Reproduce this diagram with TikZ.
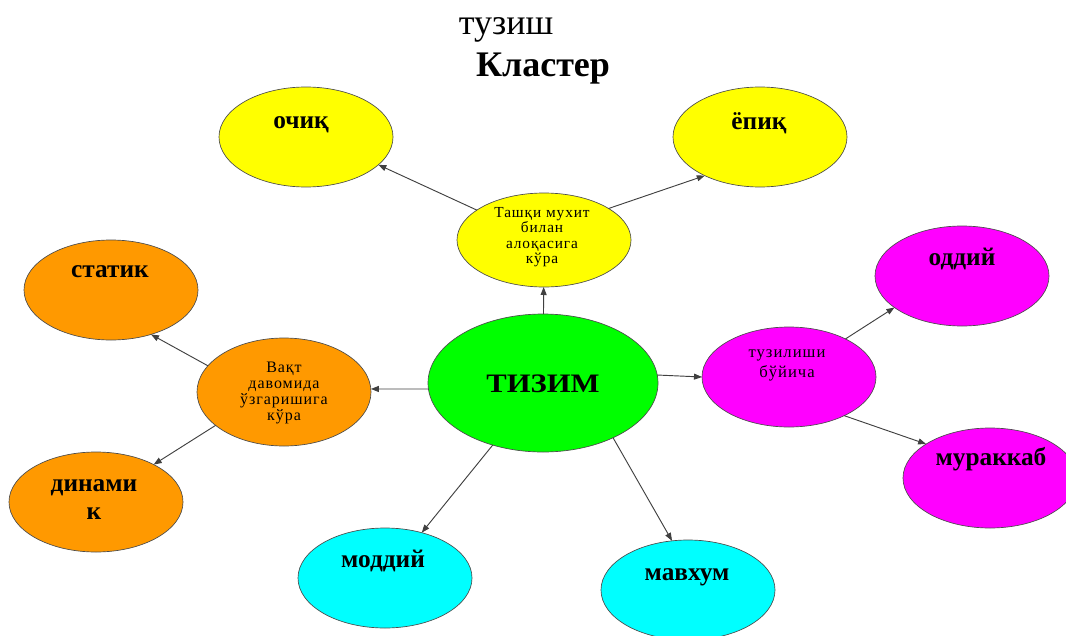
\documentclass[tikz,border=0pt]{standalone}
\usepackage{fontspec}
\setmainfont{Liberation Serif}
\newfontfamily\spacedfont[LetterSpace=6]{Liberation Serif}
\newfontfamily\widefont[FakeStretch=1.15]{Liberation Serif}
\usetikzlibrary{shapes.geometric,arrows.meta}
\definecolor{yell}{RGB}{255,255,0}
\definecolor{orng}{RGB}{255,153,0}
\definecolor{grn}{RGB}{0,255,0}
\definecolor{mgnt}{RGB}{255,0,255}
\definecolor{cyn}{RGB}{0,255,255}
\tikzset{
	blob/.style={ellipse, draw=black!70, line width=0.5pt, minimum width=130.5pt, minimum height=75pt, inner sep=0pt, outer sep=0pt},
	word/.style={font=\fontsize{19}{21}\selectfont\bfseries, inner sep=0pt, anchor=base},
	small/.style={font=\spacedfont\fontsize{11.5}{11.5}\selectfont, align=center, inner sep=0pt},
	arr/.style={draw=black!75, line width=0.7pt, -{Triangle[length=6pt,width=4.5pt]}}
}

\begin{document}
\begin{tikzpicture}[x=0.75pt,y=-0.75pt]
		\useasboundingbox (0,0) rectangle (1066,635);
		%Title
		\node[font=\fontsize{27}{30}\selectfont, inner sep=0pt, anchor=base] (tuzish) at (506,35) {тузиш};
		\node[font=\fontsize{27}{30}\selectfont\bfseries, inner sep=0pt, anchor=base] (klaster) at (543,77) {Кластер};
		%Ellipses
		\node[blob, fill=yell] (ochiq) at (306,137) {};
		\node[blob, fill=yell] (yopiq) at (760,137) {};
		\node[blob, fill=yell, minimum height=70.5pt] (tashqi) at (544,240) {};
		\node[blob, fill=orng] (statik) at (111,290) {};
		\node[blob, fill=orng, minimum height=81pt] (vaqt) at (284,392) {};
		\node[blob, fill=orng] (dinamik) at (96,502) {};
		\node[blob, fill=grn, minimum width=172.5pt, minimum height=103.5pt] (tizim) at (543,383) {};
		\node[blob, fill=mgnt] (tuzil) at (789,377) {};
		\node[blob, fill=mgnt] (oddiy) at (962,276) {};
		\node[blob, fill=mgnt] (murakkab) at (990,478) {};
		\node[blob, fill=cyn] (moddiy) at (385,578) {};
		\node[blob, fill=cyn] (mavhum) at (688,590) {};
		%Arrows
		\draw[arr] (tashqi.156) -- (ochiq.-21);
		\draw[arr] (tashqi.26) -- (yopiq.-145);
		\draw[arr] (tizim) -- (tashqi);
		\draw[arr] (tizim.183) -- (vaqt.2);
		\draw[arr] (tizim.4) -- (tuzil.west);
		\draw[arr] (tizim) -- (moddiy);
		\draw[arr] (tizim.-38) -- (mavhum.108);
		\draw[arr] (vaqt.161) -- (statik.-48);
		\draw[arr] (vaqt.-154) -- (dinamik.33);
		\draw[arr] (tuzil.34) -- (oddiy.-155);
		\draw[arr] (tuzil.-35) -- (murakkab.152);
		%Labels
		\node[word] (ochiqtxt) at (301,128) {очиқ};
		\node[word] (yopiqtxt) at (759,129) {ёпиқ};
		\node[word] (statiktxt) at (110,277) {статик};
		\node[word] (dinamiktxt) at (94,491) {динами};
		\node[word] (dinamiktxtb) at (94,519) {к};
		\node[word] (moddiytxt) at (383,567) {моддий};
		\node[word] (mavhumtxt) at (687,580) {мавхум};
		\node[word] (oddiytxt) at (962,265) {оддий};
		\node[word] (murakkabtxt) at (991,465) {мураккаб};
		\node[font=\widefont\fontsize{20}{22}\selectfont\bfseries, inner sep=0pt, anchor=base] (tizimtxt) at (543,392) {ТИЗИМ};
		\node[small] (tashqitxt) at (542,237) {Ташқи мухит\\билан\\алоқасига\\кўра};
		\node[small, font=\spacedfont\fontsize{12}{12.2}\selectfont] (vaqttxt) at (284,393) {Вақт\\давомида\\ўзгаришига\\кўра};
		\node[small, font=\spacedfont\fontsize{12.5}{15}\selectfont] (tuziltxt) at (787,365) {тузилиши\\бўйича};
	\end{tikzpicture}
\end{document}
